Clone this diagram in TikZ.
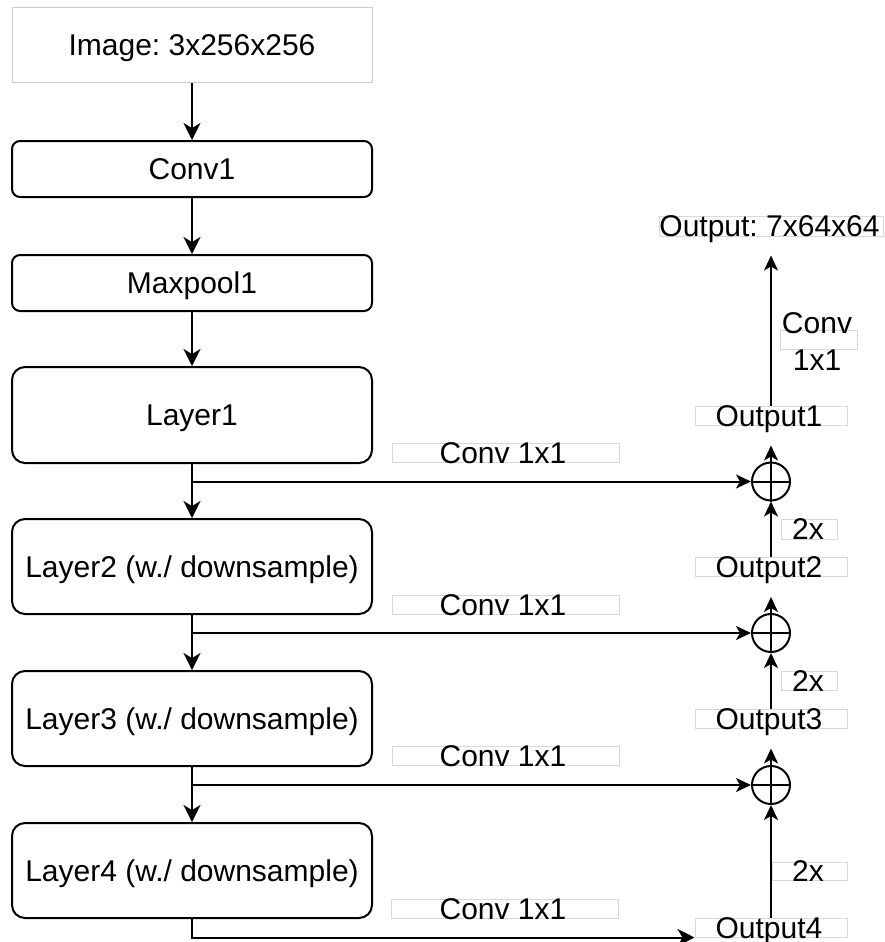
\documentclass[tikz,border=0pt]{standalone}
\usepackage{fontspec}
\setmainfont{Liberation Sans}
\usetikzlibrary{arrows.meta}
\frenchspacing
\begin{document}
\begin{tikzpicture}[x=1pt,y=-1pt,
  font=\fontsize{30}{36}\selectfont,
  txt/.style={inner sep=0pt, text height=21.5pt, text depth=0pt},
  blk/.style={draw=black, line width=2pt, rounded corners=8pt, minimum width=360pt, inner sep=0pt, text height=21.5pt, text depth=0pt},
  layerbox/.style={blk, rounded corners=13pt, minimum height=95pt},
  lbox/.style={draw=gray!30, line width=1pt, inner sep=0pt, minimum height=19pt},
  sumnode/.style={circle, draw, line width=2pt, minimum size=38pt, inner sep=0pt},
  big/.style={-{Stealth[length=17pt,width=17pt,inset=5pt]}, line width=2pt},
  arr/.style={-{Stealth[length=15pt,width=14pt,inset=4pt]}, line width=2pt},
]
\useasboundingbox (0,0) rectangle (884,942);

% main column
\node[blk, draw=gray!40, line width=1pt, rounded corners=0pt, minimum height=75pt] (img) at (192,45) {Image: 3x256x256};
\node[blk, minimum height=56pt] (conv1) at (192,169) {Conv1};
\node[blk, minimum height=56pt] (maxp) at (192,283) {Maxpool1};
\node[layerbox, minimum height=96pt] (l1) at (192,415) {Layer1};
\node[layerbox] (l2) at (192,566.5) {Layer2 (w./ downsample)};
\node[layerbox] (l3) at (192,718.5) {Layer3 (w./ downsample)};
\node[layerbox] (l4) at (192,870.5) {Layer4 (w./ downsample)};

\draw[big] (img) -- (conv1);
\draw[big] (conv1) -- (maxp);
\draw[big] (maxp) -- (l1);
\draw[big] (l1) -- (l2);
\draw[big] (l2) -- (l3);
\draw[big] (l3) -- (l4);

% sum nodes
\node[sumnode] (s1) at (771,481.5) {};
\node[sumnode] (s2) at (771,633) {};
\node[sumnode] (s3) at (771,785) {};
\foreach \s in {s1,s2,s3}{
  \draw[line width=2pt] (\s.north) -- (\s.south) (\s.west) -- (\s.east);
}

% Conv 1x1 labels on lateral connections
\node[lbox, minimum width=227pt] (c1) at (505.5,453) {};
\node[lbox, minimum width=227pt] (c2) at (505.5,604.5) {};
\node[lbox, minimum width=227pt] (c3) at (505.5,755.5) {};
\node[lbox, minimum width=227pt] (c4) at (505,908.5) {};
\node[txt] (c1t) at (503,453) {Conv 1x1};
\node[txt] (c2t) at (503,604.5) {Conv 1x1};
\node[txt] (c3t) at (503,755.5) {Conv 1x1};
\node[txt] (c4t) at (503,908.5) {Conv 1x1};

% Output labels
\node[lbox, minimum width=152pt] (o1) at (771,415.5) {};
\node[lbox, minimum width=152pt] (o2) at (771,567) {};
\node[lbox, minimum width=152pt] (o3) at (771,718.5) {};
\node[lbox, minimum width=152pt] (o4) at (771,927.5) {};
\node[txt] (o1t) at (769,415.5) {Output1};
\node[txt] (o2t) at (769,567) {Output2};
\node[txt] (o3t) at (769,718.5) {Output3};
\node[txt] (o4t) at (769,927.5) {Output4};

% 2x labels
\node[lbox, minimum width=56pt, minimum height=20pt] (x1) at (809,529) {};
\node[lbox, minimum width=56pt] (x2) at (809,680.5) {};
\node[lbox, minimum width=75pt, minimum height=18pt] (x3) at (809.5,871) {};
\node[txt] (x1t) at (808,529) {2x};
\node[txt] (x2t) at (808,680.5) {2x};
\node[txt] (x3t) at (808,871) {2x};

% final conv label and output
\node[lbox, minimum width=77pt] (cv) at (818.5,339.5) {};
\node[txt] (cvt1) at (817,322.5) {Conv};
\node[txt] (cvt2) at (817,360) {1x1};
\node[lbox, minimum width=224pt, minimum height=20pt] (out) at (771,226) {};
\node[txt] (outt) at (769.5,226) {Output: 7x64x64};

% connectors
\draw[arr] (l1.south) |- (s1.west);
\draw[arr] (l2.south) |- (s2.west);
\draw[arr] (l3.south) |- (s3.west);
\draw[big] (l4.south) |- (o4.south west);

\draw[arr, shorten >=20pt] (s1) -- (o1);
\draw[arr, shorten >=19pt] (o1) -- (out);
\draw[arr] (o2) -- (s1);
\draw[arr, shorten >=20pt] (s2) -- (o2);
\draw[arr] (o3) -- (s2);
\draw[arr, shorten >=20pt] (s3) -- (o3);
\draw[arr] (o4) -- (s3);
\end{tikzpicture}
\end{document}
